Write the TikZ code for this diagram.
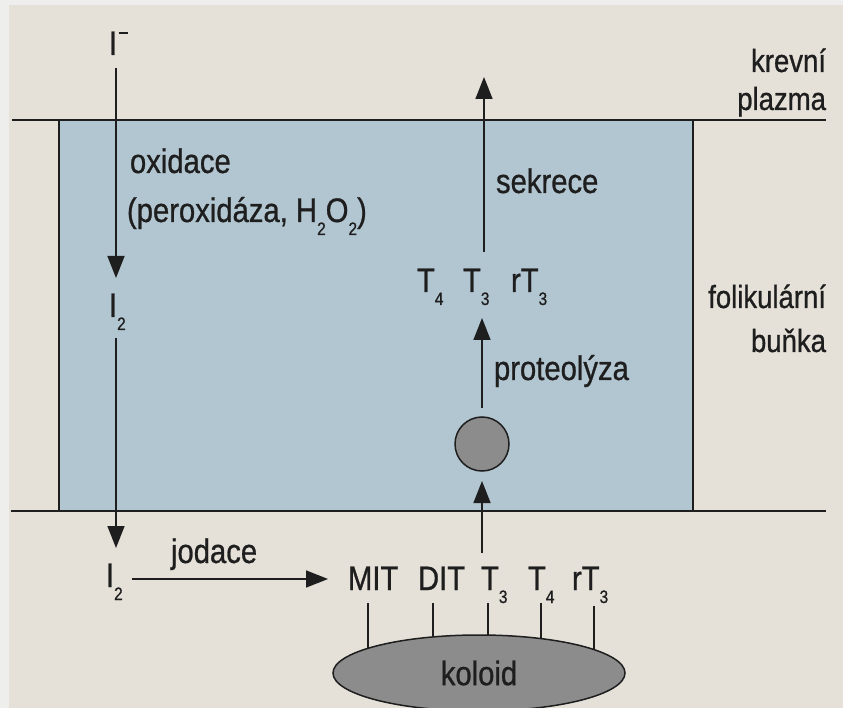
\documentclass[tikz,border=0pt]{standalone}
\usepackage{fontspec}
\setmainfont[FakeStretch=0.86,FakeBold=0.8]{Liberation Sans}
\usetikzlibrary{arrows.meta,shapes.geometric}
\definecolor{paper}{RGB}{229,225,217}
\definecolor{edgecol}{RGB}{238,238,236}
\definecolor{cellcol}{RGB}{178,198,209}
\definecolor{ink}{RGB}{30,30,30}
\definecolor{koloidgray}{RGB}{140,140,140}
\newcommand\dn[1]{\raisebox{-13pt}{\fontsize{18}{18}\selectfont #1}}
\newcommand\minussup{\hspace{1.5pt}\raisebox{21pt}{\rule{9pt}{1.6pt}}}
\begin{document}
\begin{tikzpicture}[x=1pt,y=-1pt,font=\fontsize{34}{40}\selectfont,
  txt/.style={inner sep=0pt,outer sep=0pt,text=ink,text height=24pt,text depth=13pt},
  side/.style={inner sep=0pt,outer sep=0pt,text=ink,font=\fontsize{32}{38}\selectfont},
  arr/.style={draw=ink,line width=1.6pt,-{Triangle[length=22pt,width=17pt]}},
  ln/.style={draw=ink,line width=1.5pt},
  bound/.style={draw=ink,line width=2pt},
  blob/.style={draw=ink,line width=1.5pt,fill=koloidgray,text=ink,inner sep=0pt,outer sep=0pt}]
\useasboundingbox (0,0) rectangle (843,708);
\fill[paper] (0,0) rectangle (843,708);
\fill[edgecol] (0,0) rectangle (9,708);
\fill[edgecol] (0,0) rectangle (843,5);
% follicular cell
\fill[cellcol] (59,120) rectangle (693,511);
\draw[bound] (59,120) -- (59,511);
\draw[bound] (693,120) -- (693,511);
\draw[bound] (12,120) -- (826,120);
\draw[bound] (11,511) -- (826,511);
% side labels
\node[side,anchor=base east] (krev) at (826,72) {krevní};
\node[side,anchor=base east] (plaz) at (826,110) {plazma};
\node[side,anchor=base east] (foli) at (826,308) {folikulární};
\node[side,anchor=base east] (bunk) at (826,352) {buňka};
% iodide path
\coordinate (colI) at (116,0);
\node[txt,anchor=base west] (Im) at (109,55) {I\minussup};
\node[txt,anchor=base west] (I2a) at (109,317) {I\dn{2}};
\node[txt,anchor=base west] (I2b) at (106,587) {I\dn{2}};
\node[txt,anchor=base west] (oxi) at (130,173) {oxidace};
\node[txt,anchor=base west] (perox) at (127,222) {(peroxidáza, H\dn{2}O\dn{2})};
\node[txt,anchor=base west] (jod) at (171,563) {jodace};
\draw[arr] (Im.south -| colI) -- ([yshift=15pt]I2a.north -| colI);
\draw[arr,shorten <=8pt] (I2a.south -| colI) -- ([yshift=15pt]I2b.north -| colI);
% colloid labels
\node[txt,anchor=base west] (MIT) at (348,590) {MIT};
\node[txt,anchor=base west] (DIT) at (418,590) {DIT};
\node[txt,anchor=base west] (T3l) at (481,590) {T\dn{3}};
\node[txt,anchor=base west] (T4l) at (528,590) {T\dn{4}};
\node[txt,anchor=base west] (rT3l) at (572,590) {rT\dn{3}};
\coordinate (hrow) at (0,579);
\draw[arr,shorten <=9pt,shorten >=20pt] (I2b.east |- hrow) -- (MIT.west |- hrow);
% colloid
\node[blob,ellipse,minimum width=292pt,minimum height=76pt] (kol) at (479,673) {koloid};
\coordinate (e1) at (368,648);
\coordinate (e2) at (433,637);
\coordinate (e3) at (488,635);
\coordinate (e4) at (541,639);
\coordinate (e5) at (594,650);
\draw[ln] (MIT.south -| e1) -- (e1);
\draw[ln] (DIT.south -| e2) -- (e2);
\draw[ln] (T3l.south -| e3) -- (e3);
\draw[ln] (T4l.south -| e4) -- (e4);
\draw[ln] ([yshift=-3pt]rT3l.south -| e5) -- (e5);
% vesicle and hormones
\node[blob,circle,minimum size=54pt] (ves) at (482,444) {};
\draw[arr,shorten <=13pt,shorten >=10pt] (T3l.north -| ves) -- (ves.south);
\node[txt,anchor=base west] (T4u) at (417,292) {T\dn{4}};
\node[txt,anchor=base west] (T3u) at (463,292) {T\dn{3}};
\node[txt,anchor=base west] (rT3u) at (511,292) {rT\dn{3}};
\draw[arr,shorten <=9pt,shorten >=13pt] (ves.north) -- (T3u.south -| ves);
\node[txt,anchor=base west] (prot) at (494,380) {proteolýza};
\coordinate (sek) at (484,77);
\draw[arr,shorten <=16pt] (T3u.north -| sek) -- (sek);
\node[txt,anchor=base west] (sekr) at (496,193) {sekrece};
\end{tikzpicture}
\end{document}
